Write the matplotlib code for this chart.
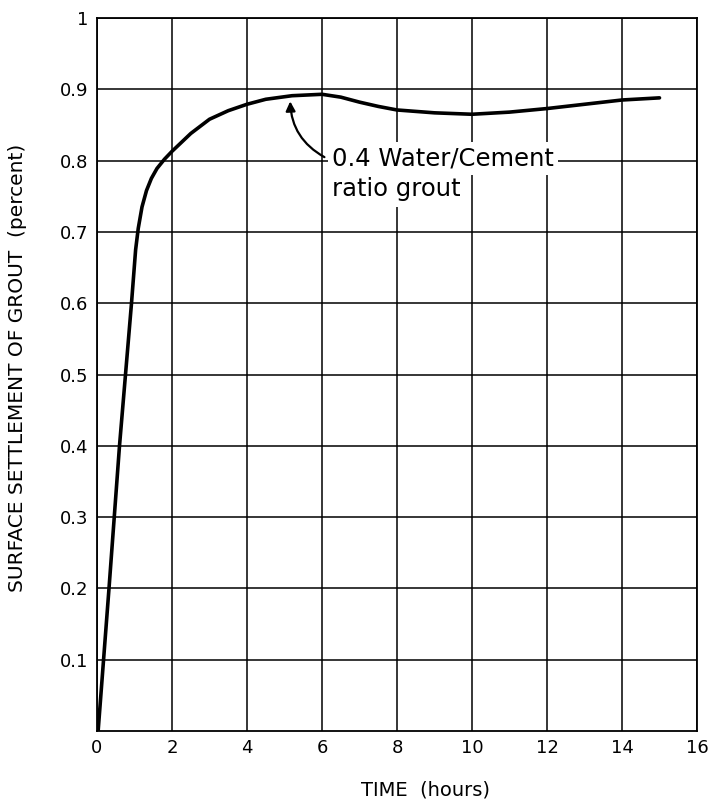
import matplotlib.pyplot as plt

# curve
time_h = [0.03, 0.32, 0.6, 0.92, 1.03, 1.1, 1.2, 1.32, 1.45, 1.6, 1.8, 2.0, 2.5,
          3.0, 3.5, 4.0, 4.5, 5.2, 6.0, 6.5, 7.0, 7.5, 8.0, 9.0, 10.0, 11.0,
          12.0, 13.0, 14.0, 15.0]
settlement = [0.0, 0.2, 0.4, 0.6, 0.675, 0.705, 0.735, 0.758, 0.775, 0.789,
              0.802, 0.813, 0.838, 0.858, 0.870, 0.879, 0.886, 0.891, 0.893,
              0.889, 0.882, 0.876, 0.871, 0.867, 0.865, 0.868, 0.873, 0.879,
              0.885, 0.888]

xticks = [0, 2, 4, 6, 8, 10, 12, 14, 16]
yticks = [0.1, 0.2, 0.3, 0.4, 0.5, 0.6, 0.7, 0.8, 0.9, 1.0]
ylabels = ['0.1', '0.2', '0.3', '0.4', '0.5', '0.6', '0.7', '0.8', '0.9', '1']

fig = plt.figure(figsize=(7.09, 8.08), dpi=100)
ax = fig.add_axes([97 / 709, 1 - 731 / 808, 600 / 709, 713 / 808])

ax.plot(time_h, settlement, color='k', lw=2.6, solid_capstyle='round',
        solid_joinstyle='round', zorder=3)

ax.set_xlim(0, 16)
ax.set_ylim(0, 1)
ax.set_xticks(xticks)
ax.set_yticks(yticks)
ax.set_yticklabels(ylabels)
ax.tick_params(length=0, labelsize=13, pad=6)
ax.grid(True, color='k', lw=1.1)
for s in ax.spines.values():
    s.set_linewidth(1.3)

ax.annotate('', xy=(5.15, 0.887), xytext=(6.13, 0.803),
            arrowprops=dict(arrowstyle='-|>', color='k', lw=1.6,
                            mutation_scale=14,
                            connectionstyle='arc3,rad=-0.3'),
            zorder=4)
ax.text(6.27, 0.803, '0.4 Water/Cement', fontsize=17.5, va='center', ha='left',
        bbox=dict(facecolor='white', edgecolor='none', pad=3), zorder=2.5)
ax.text(6.27, 0.760, 'ratio grout', fontsize=17.5, va='center', ha='left',
        bbox=dict(facecolor='white', edgecolor='none', pad=4), zorder=2.5)

fig.text(18 / 709, 1 - 368 / 808, 'SURFACE SETTLEMENT OF GROUT  (percent)',
         rotation=90, va='center', ha='center', fontsize=14.5)
fig.text(426 / 709, 1 - 790 / 808, 'TIME  (hours)', va='center', ha='center',
         fontsize=14)

fig.savefig('out.png', dpi=100)
